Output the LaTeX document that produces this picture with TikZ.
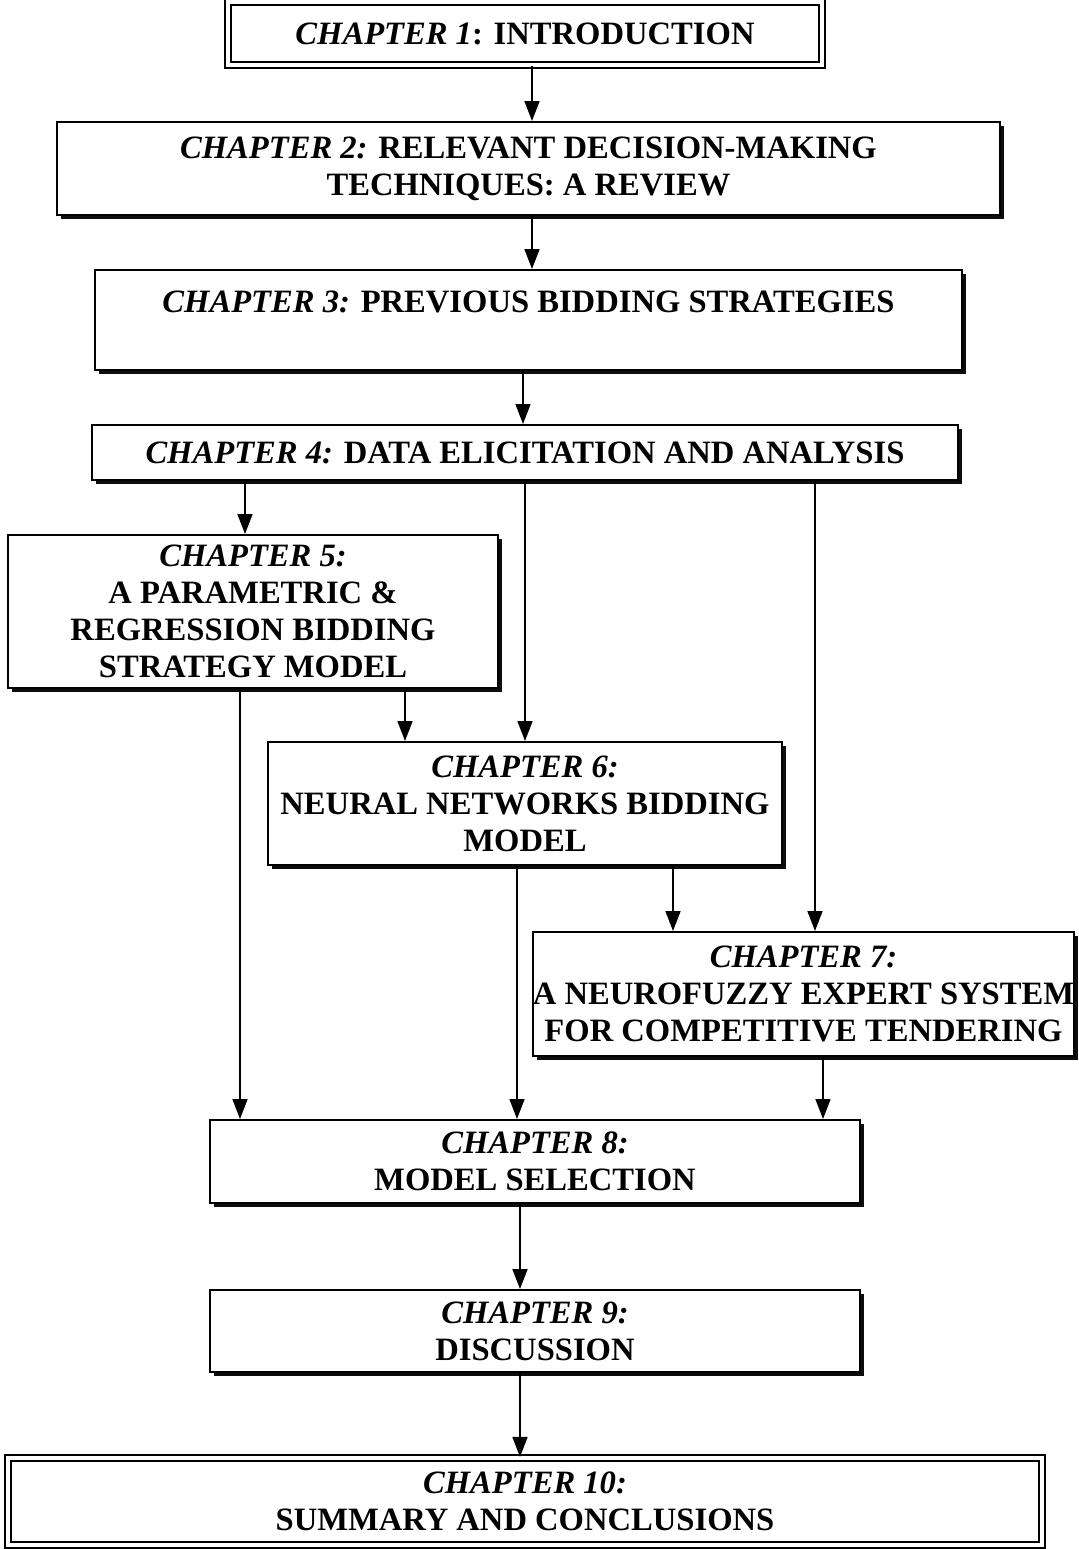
\documentclass[tikz,border=0pt]{standalone}
\usepackage{fontspec}
\setmainfont{Liberation Serif}
\usetikzlibrary{shadows, arrows.meta}
\newcommand{\chapfont}{\fontsize{16.3}{18.5}\selectfont\bfseries}
\newcommand{\chap}[1]{\textit{CHAPTER #1}}
\tikzset{
  chapbox/.style 2 args={draw, line width=1pt, fill=white, align=center, font=\chapfont,
             inner sep=0pt, minimum width=#1, minimum height=#2,
             drop shadow={shadow xshift=2pt, shadow yshift=-2pt, fill=black, opacity=0.95}},
  endbox/.style={double, double distance=2pt, line width=1.1pt},
  flow/.style={-{Triangle[length=10pt, width=7.5pt]}, line width=0.8pt},
}
\begin{document}
\begin{tikzpicture}[x=0.5pt, y=-0.5pt]
  \useasboundingbox (0,0) rectangle (1078,1549);
  \node[chapbox={297pt}{31.5pt}, endbox] (ch1) at (525,33.5) {\chap{1}: INTRODUCTION};
  \node[chapbox={471.5pt}{46.5pt}] (ch2) at (528.5,168.5) {\chap{2:} RELEVANT DECISION-MAKING\\TECHNIQUES: A REVIEW};
  \node[chapbox={433.5pt}{50pt}] (ch3) at (528.5,320) {\chap{3:} PREVIOUS BIDDING STRATEGIES\\\mbox{}};
  \node[chapbox={433pt}{27.5pt}] (ch4) at (525,452.5) {\chap{4:} DATA ELICITATION AND ANALYSIS};
  \node[chapbox={245pt}{76.5pt}] (ch5) at (253,611.5) {\chap{5:}\\A PARAMETRIC \&\\REGRESSION BIDDING\\STRATEGY MODEL};
  \node[chapbox={257pt}{61.5pt}] (ch6) at (525,803.5) {\chap{6:}\\NEURAL NETWORKS BIDDING\\MODEL};
  \node[chapbox={270.5pt}{62pt}] (ch7) at (803.5,994) {\chap{7:}\\A NEUROFUZZY EXPERT SYSTEM\\FOR COMPETITIVE TENDERING};
  \node[chapbox={325pt}{41.5pt}] (ch8) at (535,1161.5) {\chap{8:}\\MODEL SELECTION};
  \node[chapbox={325pt}{41pt}] (ch9) at (535,1331) {\chap{9:}\\DISCUSSION};
  \node[chapbox={517pt}{43.5pt}, endbox] (ch10) at (525,1501.5) {\chap{10:}\\SUMMARY AND CONCLUSIONS};

  \draw[flow] (ch1.south -| 532,0) -- (ch2.north -| 532,0);
  \draw[flow] (ch2.south -| 532,0) -- (ch3.north -| 532,0);
  \draw[flow] (ch3.south -| 523,0) -- (ch4.north -| 523,0);
  \draw[flow] (ch4.south -| 245,0) -- (ch5.north -| 245,0);
  \draw[flow] (ch4.south -| 525,0) -- (ch6.north -| 525,0);
  \draw[flow] (ch4.south -| 815,0) -- (ch7.north -| 815,0);
  \draw[flow] (ch5.south -| 405,0) -- (ch6.north -| 405,0);
  \draw[flow] (ch5.south -| 240,0) -- (ch8.north -| 240,0);
  \draw[flow] (ch6.south -| 673,0) -- (ch7.north -| 673,0);
  \draw[flow] (ch6.south -| 517,0) -- (ch8.north -| 517,0);
  \draw[flow] (ch7.south -| 823,0) -- (ch8.north -| 823,0);
  \draw[flow] (ch8.south -| 520,0) -- (ch9.north -| 520,0);
  \draw[flow] (ch9.south -| 520,0) -- (ch10.north -| 520,0);
\end{tikzpicture}
\end{document}
